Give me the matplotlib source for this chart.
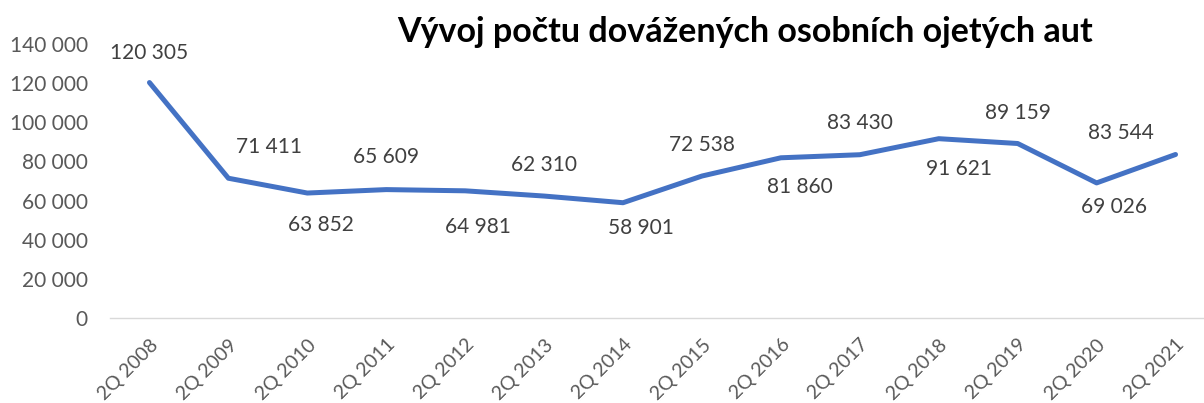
import matplotlib
matplotlib.use('Agg')
import matplotlib.pyplot as plt
from matplotlib.ticker import FuncFormatter

categories = ['2Q 2008', '2Q 2009', '2Q 2010', '2Q 2011', '2Q 2012', '2Q 2013', '2Q 2014',
              '2Q 2015', '2Q 2016', '2Q 2017', '2Q 2018', '2Q 2019', '2Q 2020', '2Q 2021']
values = [120305, 71411, 63852, 65609, 64981, 62310, 58901,
          72538, 81860, 83430, 91621, 89159, 69026, 83544]

# label offsets from the point, in pixels (dx, dy)
label_offsets = [(0, 30), (41, 31), (14, -32), (0, 33), (13, -36), (0, 31), (18, -25),
                 (0, 31), (19, -29), (0, 32), (20, -30), (0, 31), (17, -24), (-55, 21)]

plt.rcParams['font.family'] = ['Lato', 'DejaVu Sans']

fig = plt.figure(figsize=(12.04, 4.03), dpi=100)
ax = fig.add_axes([110 / 1204, 85 / 403, 1105 / 1204, 274 / 403])

x = list(range(len(categories)))
ax.plot(x, values, color='#4472C4', linewidth=3.6, solid_joinstyle='round', solid_capstyle='round',
        zorder=3)

def fmt(v):
    return f'{int(v):,}'.replace(',', ' ')

for i, v in enumerate(values):
    dx, dy = label_offsets[i]
    ax.annotate(fmt(v), (i, v), xytext=(dx * 0.72, dy * 0.72), textcoords='offset points',
                ha='center', va='center', fontsize=15, color='#404040')

ax.set_xlim(-0.5, len(categories) - 0.5)
ax.set_ylim(0, 140000)
ax.set_yticks(range(0, 140001, 20000))
ax.yaxis.set_major_formatter(FuncFormatter(lambda v, p: fmt(v)))
ax.set_xticks(x)
ax.set_xticklabels(categories, rotation=45, ha='right', rotation_mode='anchor')
ax.tick_params(axis='both', length=0, labelsize=15, labelcolor='#595959')
ax.tick_params(axis='y', pad=16)
ax.tick_params(axis='x', pad=13, labelsize=14)

for s in ['top', 'right', 'left']:
    ax.spines[s].set_visible(False)
ax.spines['bottom'].set_color('#D9D9D9')
ax.spines['bottom'].set_linewidth(1)

fig.text(745 / 1204, 1 - 32 / 403, 'Vývoj počtu dovážených osobních ojetých aut',
         ha='center', va='center', fontsize=24.5, fontweight='bold', color='black')

fig.savefig('out.png', dpi=100)
